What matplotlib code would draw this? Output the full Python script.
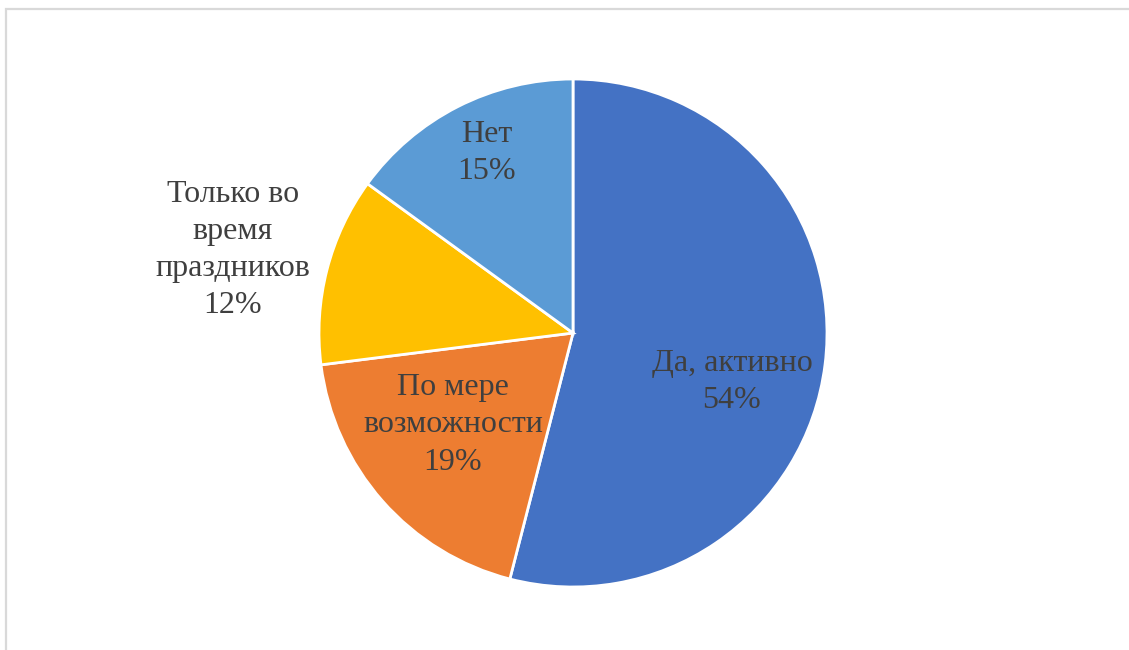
import matplotlib
matplotlib.use('Agg')
from matplotlib import pyplot as plt

# survey answers, share of respondents in percent
labels = ['Да, активно', 'По мере\nвозможности', 'Только во\nвремя\nпраздников', 'Нет']
shares = [54, 19, 12, 15]
colors = ['#4472C4', '#ED7D31', '#FFC000', '#5B9BD5']

# label offsets from the pie centre, in pixels (y up)
label_offsets = [(159, -49), (-120, -92), (-340, 83), (-86, 180)]

W, H = 1129, 650
center = (573, H - 333)
radius = 254

fig = plt.figure(figsize=(W / 100, H / 100), dpi=100)
ax = fig.add_axes([0, 0, 1, 1])
ax.set_xlim(0, W)
ax.set_ylim(0, H)
ax.set_aspect('equal')
ax.axis('off')

# light border of the chart area
ax.plot([5.5, 5.5, W], [0, H - 8.5, H - 8.5], color='#d9d9d9', lw=1.6,
        solid_joinstyle='miter')

ax.pie(shares, colors=colors, center=center, radius=radius, startangle=90,
       counterclock=False,
       wedgeprops=dict(edgecolor='white', linewidth=2.0))
ax.set_xlim(0, W)
ax.set_ylim(0, H)
ax.axis('off')

for lab, val, (dx, dy) in zip(labels, shares, label_offsets):
    ax.text(center[0] + dx, center[1] + dy, f'{lab}\n{val}%',
            ha='center', va='center', ma='center',
            fontsize=23, family='Liberation Serif', color='#3f3f3f',
            linespacing=1.37)

fig.savefig('out.png', dpi=100)
